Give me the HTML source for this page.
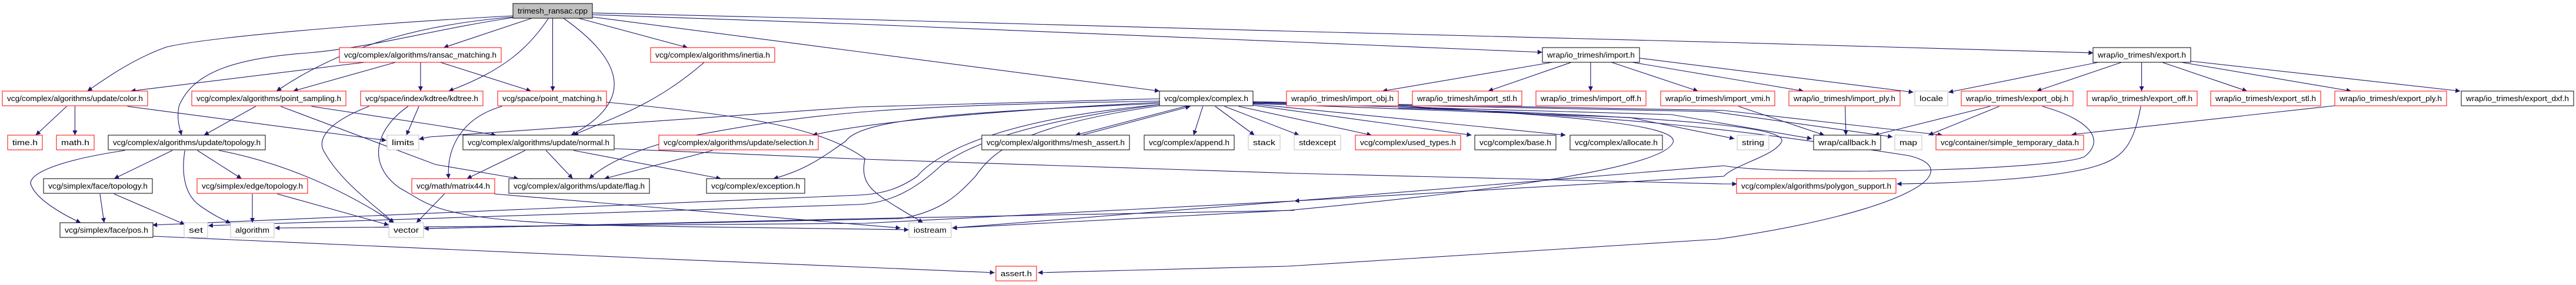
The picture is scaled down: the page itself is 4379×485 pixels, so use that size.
<!DOCTYPE html>
<html><head><meta charset="utf-8"><style>
html,body{margin:0;padding:0;background:#fff;}
svg{display:block;}
text{font-family:"Liberation Sans",sans-serif;font-size:12.5px;fill:#000;}
.e{fill:none;stroke:#191970;stroke-width:1.1;}
.r{fill:#fff;stroke:#ff0000;stroke-width:1;}
.k{fill:#fff;stroke:#000;stroke-width:1;}
.g{fill:#fff;stroke:#bfbfbf;stroke-width:1;}
</style></head><body>
<svg id="s" width="4379" height="485" viewBox="0 0 4379 485" xmlns="http://www.w3.org/2000/svg">
<defs><marker id="a" viewBox="0 0 10 10" refX="10" refY="5" markerWidth="10" markerHeight="8" markerUnits="userSpaceOnUse" orient="auto"><path d="M0,0 L10,5 L0,10 z" fill="#191970"/></marker></defs>
<g id="edges"></g>
<g>
<rect x="872" y="6" width="135" height="25" fill="#bfbfbf" stroke="#000"/><text x="880" y="23" textLength="119" lengthAdjust="spacingAndGlyphs">trimesh_ransac.cpp</text>

<rect class="r" x="577" y="81" width="275" height="25"/><text x="585" y="98" textLength="259" lengthAdjust="spacingAndGlyphs">vcg/complex/algorithms/ransac_matching.h</text>
<rect class="r" x="1106" y="81" width="211" height="25"/><text x="1114" y="98" textLength="195" lengthAdjust="spacingAndGlyphs">vcg/complex/algorithms/inertia.h</text>
<rect class="k" x="2622" y="81" width="165" height="25"/><text x="2630" y="98" textLength="149" lengthAdjust="spacingAndGlyphs">wrap/io_trimesh/import.h</text>
<rect class="k" x="3558" y="81" width="166" height="25"/><text x="3566" y="98" textLength="150" lengthAdjust="spacingAndGlyphs">wrap/io_trimesh/export.h</text>

<rect class="r" x="4" y="155" width="247" height="25"/><text x="12" y="172" textLength="231" lengthAdjust="spacingAndGlyphs">vcg/complex/algorithms/update/color.h</text>
<rect class="r" x="326" y="155" width="262" height="25"/><text x="334" y="172" textLength="246" lengthAdjust="spacingAndGlyphs">vcg/complex/algorithms/point_sampling.h</text>
<rect class="r" x="613" y="155" width="208" height="25"/><text x="621" y="172" textLength="192" lengthAdjust="spacingAndGlyphs">vcg/space/index/kdtree/kdtree.h</text>
<rect class="r" x="846" y="155" width="185" height="25"/><text x="854" y="172" textLength="169" lengthAdjust="spacingAndGlyphs">vcg/space/point_matching.h</text>
<rect class="k" x="1971" y="155" width="159" height="25"/><text x="1979" y="172" textLength="143" lengthAdjust="spacingAndGlyphs">vcg/complex/complex.h</text>
<rect class="r" x="2187" y="155" width="190" height="25"/><text x="2195" y="172" textLength="174" lengthAdjust="spacingAndGlyphs">wrap/io_trimesh/import_obj.h</text>
<rect class="r" x="2401" y="155" width="186" height="25"/><text x="2409" y="172" textLength="170" lengthAdjust="spacingAndGlyphs">wrap/io_trimesh/import_stl.h</text>
<rect class="r" x="2611" y="155" width="187" height="25"/><text x="2619" y="172" textLength="171" lengthAdjust="spacingAndGlyphs">wrap/io_trimesh/import_off.h</text>
<rect class="r" x="2823" y="155" width="194" height="25"/><text x="2831" y="172" textLength="178" lengthAdjust="spacingAndGlyphs">wrap/io_trimesh/import_vmi.h</text>
<rect class="r" x="3041" y="155" width="189" height="25"/><text x="3049" y="172" textLength="173" lengthAdjust="spacingAndGlyphs">wrap/io_trimesh/import_ply.h</text>
<rect class="g" x="3255" y="155" width="56" height="25"/><text x="3263" y="172" textLength="40" lengthAdjust="spacingAndGlyphs">locale</text>
<rect class="r" x="3334" y="155" width="190" height="25"/><text x="3342" y="172" textLength="174" lengthAdjust="spacingAndGlyphs">wrap/io_trimesh/export_obj.h</text>
<rect class="r" x="3548" y="155" width="187" height="25"/><text x="3556" y="172" textLength="171" lengthAdjust="spacingAndGlyphs">wrap/io_trimesh/export_off.h</text>
<rect class="r" x="3758" y="155" width="187" height="25"/><text x="3766" y="172" textLength="171" lengthAdjust="spacingAndGlyphs">wrap/io_trimesh/export_stl.h</text>
<rect class="r" x="3969" y="155" width="190" height="25"/><text x="3977" y="172" textLength="174" lengthAdjust="spacingAndGlyphs">wrap/io_trimesh/export_ply.h</text>
<rect class="k" x="4184" y="155" width="191" height="25"/><text x="4192" y="172" textLength="175" lengthAdjust="spacingAndGlyphs">wrap/io_trimesh/export_dxf.h</text>

<rect class="r" x="13" y="230" width="59" height="25"/><text x="21" y="247" textLength="43" lengthAdjust="spacingAndGlyphs">time.h</text>
<rect class="r" x="96" y="230" width="64" height="25"/><text x="104" y="247" textLength="48" lengthAdjust="spacingAndGlyphs">math.h</text>
<rect class="k" x="184" y="230" width="267" height="25"/><text x="192" y="247" textLength="251" lengthAdjust="spacingAndGlyphs">vcg/complex/algorithms/update/topology.h</text>
<rect class="g" x="658" y="230" width="54" height="25"/><text x="666" y="247" textLength="38" lengthAdjust="spacingAndGlyphs">limits</text>
<rect class="k" x="787" y="230" width="257" height="25"/><text x="795" y="247" textLength="241" lengthAdjust="spacingAndGlyphs">vcg/complex/algorithms/update/normal.h</text>
<rect class="r" x="1120" y="230" width="271" height="25"/><text x="1128" y="247" textLength="255" lengthAdjust="spacingAndGlyphs">vcg/complex/algorithms/update/selection.h</text>
<rect class="k" x="1669" y="230" width="251" height="25"/><text x="1677" y="247" textLength="235" lengthAdjust="spacingAndGlyphs">vcg/complex/algorithms/mesh_assert.h</text>
<rect class="k" x="1945" y="230" width="153" height="25"/><text x="1953" y="247" textLength="137" lengthAdjust="spacingAndGlyphs">vcg/complex/append.h</text>
<rect class="g" x="2122" y="230" width="54" height="25"/><text x="2130" y="247" textLength="38" lengthAdjust="spacingAndGlyphs">stack</text>
<rect class="g" x="2200" y="230" width="79" height="25"/><text x="2208" y="247" textLength="63" lengthAdjust="spacingAndGlyphs">stdexcept</text>
<rect class="r" x="2304" y="230" width="179" height="25"/><text x="2312" y="247" textLength="163" lengthAdjust="spacingAndGlyphs">vcg/complex/used_types.h</text>
<rect class="k" x="2507" y="230" width="138" height="25"/><text x="2515" y="247" textLength="122" lengthAdjust="spacingAndGlyphs">vcg/complex/base.h</text>
<rect class="k" x="2669" y="230" width="157" height="25"/><text x="2677" y="247" textLength="141" lengthAdjust="spacingAndGlyphs">vcg/complex/allocate.h</text>
<rect class="g" x="2953" y="230" width="54" height="25"/><text x="2961" y="247" textLength="38" lengthAdjust="spacingAndGlyphs">string</text>
<rect class="k" x="3083" y="230" width="114" height="25"/><text x="3091" y="247" textLength="98" lengthAdjust="spacingAndGlyphs">wrap/callback.h</text>
<rect class="g" x="3221" y="230" width="46" height="25"/><text x="3229" y="247" textLength="30" lengthAdjust="spacingAndGlyphs">map</text>
<rect class="r" x="3291" y="230" width="251" height="25"/><text x="3299" y="247" textLength="235" lengthAdjust="spacingAndGlyphs">vcg/container/simple_temporary_data.h</text>

<rect class="k" x="74" y="304" width="185" height="25"/><text x="82" y="321" textLength="169" lengthAdjust="spacingAndGlyphs">vcg/simplex/face/topology.h</text>
<rect class="r" x="335" y="304" width="188" height="25"/><text x="343" y="321" textLength="172" lengthAdjust="spacingAndGlyphs">vcg/simplex/edge/topology.h</text>
<rect class="r" x="700" y="304" width="141" height="25"/><text x="708" y="321" textLength="125" lengthAdjust="spacingAndGlyphs">vcg/math/matrix44.h</text>
<rect class="k" x="865" y="304" width="239" height="25"/><text x="873" y="321" textLength="223" lengthAdjust="spacingAndGlyphs">vcg/complex/algorithms/update/flag.h</text>
<rect class="k" x="1201" y="304" width="167" height="25"/><text x="1209" y="321" textLength="151" lengthAdjust="spacingAndGlyphs">vcg/complex/exception.h</text>
<rect class="r" x="2952" y="304" width="271" height="25"/><text x="2960" y="321" textLength="255" lengthAdjust="spacingAndGlyphs">vcg/complex/algorithms/polygon_support.h</text>

<rect class="k" x="102" y="379" width="158" height="25"/><text x="110" y="396" textLength="142" lengthAdjust="spacingAndGlyphs">vcg/simplex/face/pos.h</text>
<rect class="g" x="313" y="379" width="40" height="25"/><text x="321" y="396" textLength="24" lengthAdjust="spacingAndGlyphs">set</text>
<rect class="g" x="392" y="379" width="74" height="25"/><text x="400" y="396" textLength="58" lengthAdjust="spacingAndGlyphs">algorithm</text>
<rect class="g" x="661" y="379" width="59" height="25"/><text x="669" y="396" textLength="43" lengthAdjust="spacingAndGlyphs">vector</text>
<rect class="g" x="1545" y="379" width="72" height="25"/><text x="1553" y="396" textLength="56" lengthAdjust="spacingAndGlyphs">iostream</text>

<rect class="r" x="1693" y="453" width="69" height="25"/><text x="1701" y="470" textLength="53" lengthAdjust="spacingAndGlyphs">assert.h</text>
</g>
</svg>
<script>
var P=[
"M830,27 C500,35 260,60 200,80 C160,100 125,135 105,155",
"M830,30 C600,50 450,80 370,90 C270,100 230,130 215,180 C212,200 215,215 218,230",
"M830,29 C600,40 420,70 332,155",
"M853,31 L747,81",
"M873,31 C850,80 820,120 753,155",
"M878,31 L878,155",
"M891,31 C960,100 980,170 900,230",
"M909,31 L1040,81",
"M926,29 L1460,88 L1821,155",
"M926,25 L1460,41 L2190,71 L2495,89",
"M926,22 L1460,33 L2190,53 L2713,72 L3371,90",
"M438,106 L157,155","M475,106 L352,155","M505,106 L505,155","M743,106 L852,155",
"M1060,106 C1000,180 950,200 903,230",
"M80,181 L43,230","M90,181 L90,230","M153,181 L464,239",
"M307,181 L245,230","M374,181 L523,213 L810,230","M337,181 L523,280 L837,304",
"M503,181 L488,230",
"M443,181 C390,210 380,240 390,260 C410,310 450,350 473,379",
"M490,181 C450,220 440,280 480,320 C520,350 700,380 1000,385 L1520,391",
"M817,181 C770,200 750,250 753,304",
"M943,174 C1100,195 1200,215 1253,270 C1460,320 1480,330 1537,379",
"M1821,168 L1460,182 L730,233 L503,237",
"M1821,172 C1500,180 1200,190 1050,230 C980,250 940,280 922,304",
"M1821,174 C1600,190 1250,210 1190,230",
"M1821,176 C1600,190 1250,200 1230,240 C1200,270 1180,290 1143,304",
"M1821,178 C1650,200 1560,250 1530,300 C1510,320 1490,330 1460,332 L183,383",
"M1821,178 C1650,210 1590,250 1560,280 C1530,320 1500,345 1460,348 L250,384",
"M1983,342 L1253,380 L330,388",
"M1983,358 L1253,372 L509,389",
"M1821,180 C1650,215 1620,260 1600,300 C1580,330 1560,360 1510,372 L509,389",
"M1852,181 L1720,230","M1728,230 L1858,181","M1873,181 L1862,230","M1888,181 L1935,230",
"M1899,181 L2203,230","M1916,181 L2290,230","M1933,179 L2410,230","M1933,177 L2523,230",
"M1933,176 L2600,200 L2940,236","M1933,175 L2650,195 L3033,236",
"M1933,174 L2700,190 L3130,233","M1933,173 L2713,188 L3190,230",
"M845,256 L775,304","M870,256 L902,304","M903,256 L1080,304",
"M952,253 L1253,271 L1983,295 L2713,313 L2943,313",
"M1070,256 L940,304",
"M748,330 L500,379","M808,330 L1510,388",
"M207,256 L137,304","M237,256 L290,304",
"M150,256 C60,275 30,300 38,317 C45,340 75,365 97,379",
"M222,256 C218,290 220,330 240,350 C255,365 265,372 277,380",
"M263,256 C350,280 420,330 473,379",
"M120,330 L125,379","M137,330 L222,382","M303,330 L303,379","M333,330 L467,383",
"M184,402 L1000,440 L1623,464",
"M2507,106 L2303,155","M2530,106 L2430,155","M2553,106 L2553,155","M2578,106 L2682,155",
"M2603,106 L3023,155","M2612,99 L3155,157",
"M2322,180 C2500,195 2660,210 2652,242 C2640,290 2400,330 2190,358 L1572,388",
"M2322,182 C2600,200 2900,215 3150,265 C3220,290 3150,360 2920,407 L2190,453 L1675,464",
"M2322,184 C2700,200 3000,220 2997,240 C2990,265 2940,280 2713,300 L1983,342",
"M2945,181 L3048,230","M3073,181 L3074,230",
"M3377,106 L3197,157","M3405,106 L3303,155","M3429,106 L3429,155",
"M3665,106 L3767,155","M3688,106 L3892,155","M3699,104 L4023,155",
"M3247,181 L3108,230","M3258,181 L3173,230",
"M3310,181 C3370,205 3385,240 3360,267 C3320,290 3000,300 2713,282 L1983,342 L1572,388",
"M3428,181 C3420,240 3410,265 3380,280 C3330,305 3200,312 3135,313",
"M3872,180 L3345,229"
];
var offs=[0,730,1460,2190,2920,3640];
function f(x){
 for(var i=0;i<offs.length;i++){
  var o=offs[i];
  if(x>=o && x<=o+523.5) return o+(x-o)*1.4157;
  var n=offs[i+1];
  if(n!==undefined && x>o+523.5 && x<n){var a=o+741,b=n+2;return a+(x-o-523.5)*(b-a)/(n-o-523.5);}
 }
 return x;
}
var g=document.getElementById('edges'),ns="http://www.w3.org/2000/svg";
P.forEach(function(d){
 var nd=d.replace(/(-?\d+(?:\.\d+)?),(-?\d+(?:\.\d+)?)/g,function(m,x,y){return f(+x).toFixed(1)+","+y;});
 var p=document.createElementNS(ns,'path');p.setAttribute('d',nd);p.setAttribute('class','e');p.setAttribute('marker-end','url(#a)');g.appendChild(p);
});
</script>
</body></html>
